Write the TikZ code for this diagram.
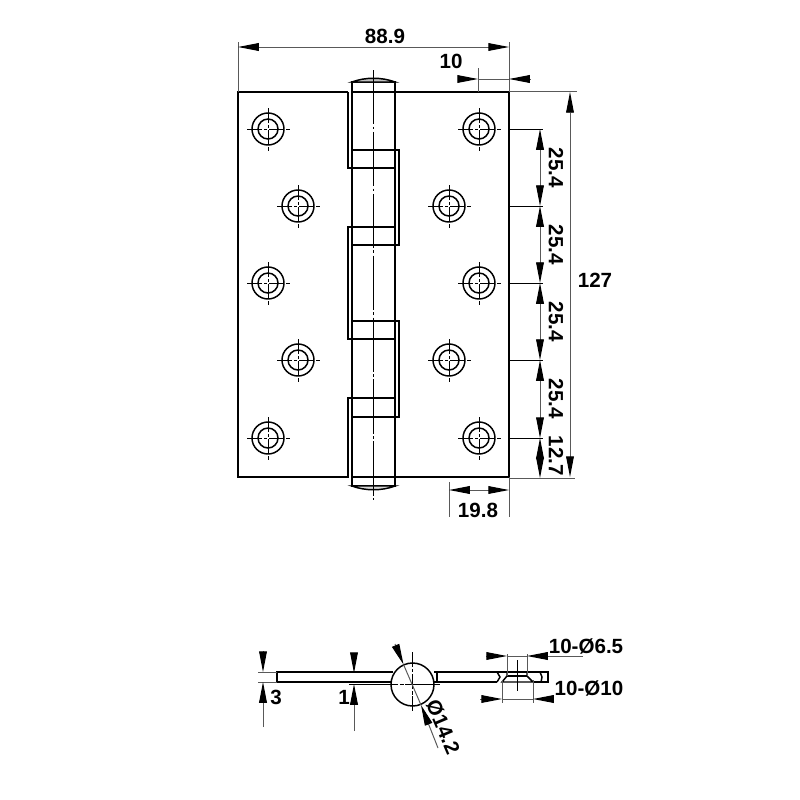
\documentclass[tikz,border=0pt]{standalone}
\usepackage{fontspec}
\setmainfont{Liberation Sans}
\usetikzlibrary{arrows.meta}
\tikzset{
  part/.style={line width=0.42pt,black},
  dimline/.style={line width=0.28pt,black!65},
  extline/.style={line width=0.28pt,black!65},
  both/.style={{Triangle[length=5.9pt,width=2.2pt,black]}-{Triangle[length=5.9pt,width=2.2pt,black]}},
  tipend/.style={-{Triangle[length=5.9pt,width=2.2pt,black]}},
  axisline/.style={line width=0.28pt,black,dash pattern=on 15.4pt off 0.7pt on 0.8pt off 0.7pt},
  holeaxis/.style={line width=0.28pt,black,dash pattern=on 4.3pt off 0.6pt on 0.9pt off 0.5pt},
  dimtext/.style={font=\bfseries\fontsize{5.85}{7}\selectfont,inner sep=0pt}
}
\begin{document}
\begin{tikzpicture}[x=0.01cm,y=-0.01cm]
  \useasboundingbox (0,0) rectangle (800,800);
  % plates and knuckles
  \draw[part] (348,92)--(238,92)--(238,477)--(348,477)--(348,398)--(395,398);
  \draw[part] (395,168)--(348,168)--(348,92);
  \draw[part] (395,227)--(348,227)--(348,339)--(395,339);
  \draw[part] (352,150)--(399,150)--(399,245)--(352,245);
  \draw[part] (352,321)--(399,321)--(399,417)--(352,417);
  \draw[part] (352,92)--(509,92)--(509,477)--(352,477);
  \draw[part] (352,82) rectangle (395,486);
  \draw[part,fill=black!25] (352,82) .. controls (365,77) and (382,77) .. (395,82)--cycle;
  \draw[part,fill=black!15] (352,486) .. controls (365,491) and (382,491) .. (395,486)--cycle;
  \draw[axisline] (373,70)--(373,500);
  % screw holes
  \foreach \x/\y in {268/129,298/206,268/283,298/360,268/438,479/129,449/206,479/283,449/360,479/438}{
    \draw[part] (\x,\y) circle (16);
    \draw[part] (\x,\y) circle (10);
    \draw[holeaxis] (\x-21,\y)--(\x+22,\y);
    \draw[holeaxis] (\x,\y-21)--(\x,\y+22);
  }
  % top dimensions
  \draw[extline] (238,42)--(238,92);
  \draw[extline] (509,42)--(509,92);
  \draw[dimline,both] (238,47)--(509,47);
  \node[dimtext] (width) at (385,36) {88.9};
  \draw[extline] (478,68)--(478,92);
  \draw[dimline,tipend] (459,79)--(478,79);
  \draw[dimline,tipend] (530,79)--(509,79);
  \draw[dimline] (478,79)--(509,79);
  \node[dimtext] (edge) at (451,61) {10};
  % right dimensions
  \draw[extline] (509,91)--(577,91);
  \draw[extline] (509,478)--(575,478);
  \draw[dimline,both] (570,92)--(570,477);
  \node[dimtext] (height) at (595,280) {127};
  \foreach \y in {129,206,283,360,438}{
    \draw[part,line width=0.28pt] (509,\y)--(543,\y);
  }
  \foreach \a/\b/\c in {129/206/168,206/283/245,283/360/322,360/438/399}{
    \draw[dimline,both] (540,\a)--(540,\b);
    \node[dimtext,rotate=-90] at (556,\c) {25.4};
  }
  \draw[dimline,both] (540,438)--(540,478);
  \node[dimtext,rotate=-90] (rest) at (556,456) {12.7};
  % bottom dimension
  \draw[extline] (449,482)--(449,517);
  \draw[extline] (509,477)--(509,517);
  \draw[dimline,both] (449,490)--(509,490);
  \node[dimtext] (inset) at (478,510) {19.8};
  % end view
  \draw[part] (393,672)--(277,672)--(277,682)--(391,682);
  \draw[part] (434,672)--(437,672)--(437,682)--(433,682);
  \draw[part] (437,672)--(548,672)--(548,682)--(533,682);
  \draw[part] (437,682)--(497,682);
  \draw[part] (412.5,684.5) circle (21.5);
  \draw[holeaxis] (412.5,652)--(412.5,712);
  \draw[holeaxis,dash pattern=on 14pt off 0.6pt on 0.9pt off 0.5pt] (349,684)--(440,684);
  \draw[part] (497,672)--(500,677)--(497,682);
  \draw[part] (540,672)--(542,677)--(541,682);
  \draw[part] (507,672)--(507,676)--(502,682)--(533,682)--(527,676)--(527,672);
  \draw[part] (507,676)--(527,676);
  \draw[axisline] (517,660)--(517,691);
  \draw[extline] (507,654)--(507,676);
  \draw[extline] (527,654)--(527,676);
  \draw[extline] (502,680)--(502,703);
  \draw[extline] (533,680)--(533,703);
  \draw[dimline,tipend] (486,656)--(507,656);
  \draw[dimline,tipend] (583,656)--(527,656);
  \draw[dimline] (507,656)--(527,656);
  \node[dimtext] (bore) at (586,646) {10-Ø6.5};
  \draw[dimline,tipend] (480,699)--(502,699);
  \draw[dimline,tipend] (553,699)--(533,699);
  \draw[dimline] (502,699)--(533,699);
  \node[dimtext] (sink) at (589,688) {10-Ø10};
  % end view dimensions
  \draw[extline] (258,672)--(277,672);
  \draw[extline] (258,682)--(277,682);
  \draw[dimline,tipend] (263,651)--(263,672);
  \draw[dimline,tipend] (263,727)--(263,682);
  \node[dimtext] (thick) at (276,697) {3};
  \draw[dimline,tipend] (354,659)--(354,673);
  \draw[dimline,tipend] (354,731)--(354,684);
  \node[dimtext] (gap) at (344,697) {1};
  \draw[dimline,tipend] (395,644)--(403.5,664.5);
  \draw[dimline,tipend] (438,748)--(421,705);
  \draw[dimline] (403.5,664.5)--(421,705);
  \node[dimtext,rotate=-67] (pin) at (443,727) {Ø14.2};
\end{tikzpicture}
\end{document}
